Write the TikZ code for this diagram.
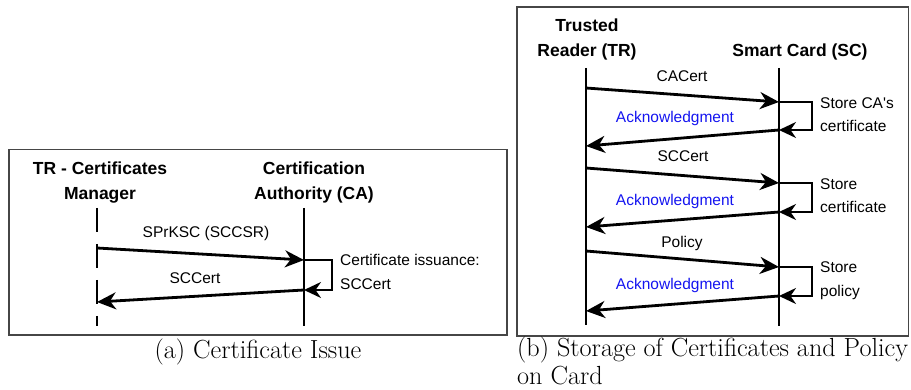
\documentclass[tikz,border=0pt]{standalone}
\usepackage{fontspec}
\newfontfamily\diagfont{Liberation Sans}
\usetikzlibrary{arrows.meta}
\definecolor{ackblue}{RGB}{20,20,240}
\definecolor{framegray}{RGB}{70,70,70}
\tikzset{
  frame/.style={draw=framegray, line width=1.1pt},
  head/.style={font=\diagfont\fontsize{17.5}{25}\selectfont\bfseries, align=center, inner sep=0pt},
  msg/.style={font=\diagfont\fontsize{15.5}{18}\selectfont, inner sep=0pt},
  note/.style={font=\diagfont\fontsize{15.5}{23.5}\selectfont, align=left, anchor=west, inner sep=0pt},
  ack/.style={msg, text=ackblue},
  life/.style={line width=2.8pt},
  dashlife/.style={line width=2.8pt, dash pattern=on 24pt off 12pt},
  call/.style={line width=2.8pt, -{Stealth[length=19pt,width=17pt,inset=6pt]}},
  selfloop/.style={line width=2pt, -{Stealth[length=17pt,width=16pt,inset=5.5pt]}},
  capt/.style={font=\fontsize{26.2}{28}\selectfont, inner sep=0pt}
}
\begin{document}
\begin{tikzpicture}[x=1pt,y=-1pt]
\useasboundingbox (0,0) rectangle (911,390);

% ---------- (a) Certificate Issue ----------
\draw[frame] (9,149.5) rectangle (507,335);
\node[head] (mgr) at (100,182.5) {TR - Certificates\\Manager};
\node[head] (ca) at (314,182.5) {Certification\\Authority (CA)};

\coordinate (mgrTop) at (97,208);
\coordinate (mgrBot) at (97,326);
\coordinate (caTop) at (304,208);
\coordinate (caBot) at (304,326);
\draw[dashlife] (mgrTop) -- (mgrBot);
\draw[life] (caTop) -- (caBot);

\coordinate (aReqOut) at (97,248);
\coordinate (aReqIn) at (304,260);
\coordinate (aLoopR) at (332,260);
\coordinate (aRespOut) at (304,290);
\coordinate (aRespIn) at (97,302);

\draw[call] (aReqOut) -- (aReqIn);
\draw[selfloop] (aReqIn) -- (aLoopR) |- (aRespOut);
\draw[call] (aRespOut) -- (aRespIn);

\node[msg] (lreq) at (206,233) {SPrKSC (SCCSR)};
\node[msg] (lresp) at (195,278) {SCCert};
\node[note] (lissue) at (340,272) {Certificate issuance:\\SCCert};

\node[capt] (capA) at (258,352) {(a) Certificate Issue};

% ---------- (b) Storage of certificates and policy ----------
\draw[frame] (517,7) rectangle (908.5,336);
\node[head] (tr) at (587,39) {Trusted\\Reader (TR)};
\node[head] (sc) at (800,52) {Smart Card (SC)};

\coordinate (trTop) at (586,68);
\coordinate (trBot) at (586,325);
\coordinate (scTop) at (779,68);
\coordinate (scBot) at (779,326);
\draw[life] (trTop) -- (trBot);
\draw[life] (scTop) -- (scBot);

% CA certificate
\coordinate (b1o) at (586,88);
\coordinate (b1i) at (779,102);
\coordinate (b1r) at (812,102);
\coordinate (b1a) at (779,130);
\coordinate (b1t) at (586,146);
\draw[call] (b1o) -- (b1i);
\draw[selfloop] (b1i) -- (b1r) |- (b1a);
\draw[call] (b1a) -- (b1t);
\node[msg] (l1) at (682,76) {CACert};
\node[ack] (k1) at (675,118) {Acknowledgment};
\node[note] (s1) at (820,114.5) {Store CA's\\certificate};

% smart card certificate
\coordinate (b2o) at (586,168);
\coordinate (b2i) at (779,183);
\coordinate (b2r) at (812,183);
\coordinate (b2a) at (779,212);
\coordinate (b2t) at (586,227);
\draw[call] (b2o) -- (b2i);
\draw[selfloop] (b2i) -- (b2r) |- (b2a);
\draw[call] (b2a) -- (b2t);
\node[msg] (l2) at (683,156) {SCCert};
\node[ack] (k2) at (675,201) {Acknowledgment};
\node[note] (s2) at (820,195.5) {Store\\certificate};

% policy
\coordinate (b3o) at (586,251);
\coordinate (b3i) at (779,267);
\coordinate (b3r) at (812,267);
\coordinate (b3a) at (779,296);
\coordinate (b3t) at (586,311);
\draw[call] (b3o) -- (b3i);
\draw[selfloop] (b3i) -- (b3r) |- (b3a);
\draw[call] (b3a) -- (b3t);
\node[msg] (l3) at (682,243) {Policy};
\node[ack] (k3) at (675,285) {Acknowledgment};
\node[note] (s3) at (820,280.5) {Store\\policy};

\node[capt, anchor=west] (capB1) at (517,350) {(b) Storage of Certificates and Policy};
\node[capt, anchor=west] (capB2) at (517,376) {on Card};
\end{tikzpicture}
\end{document}
